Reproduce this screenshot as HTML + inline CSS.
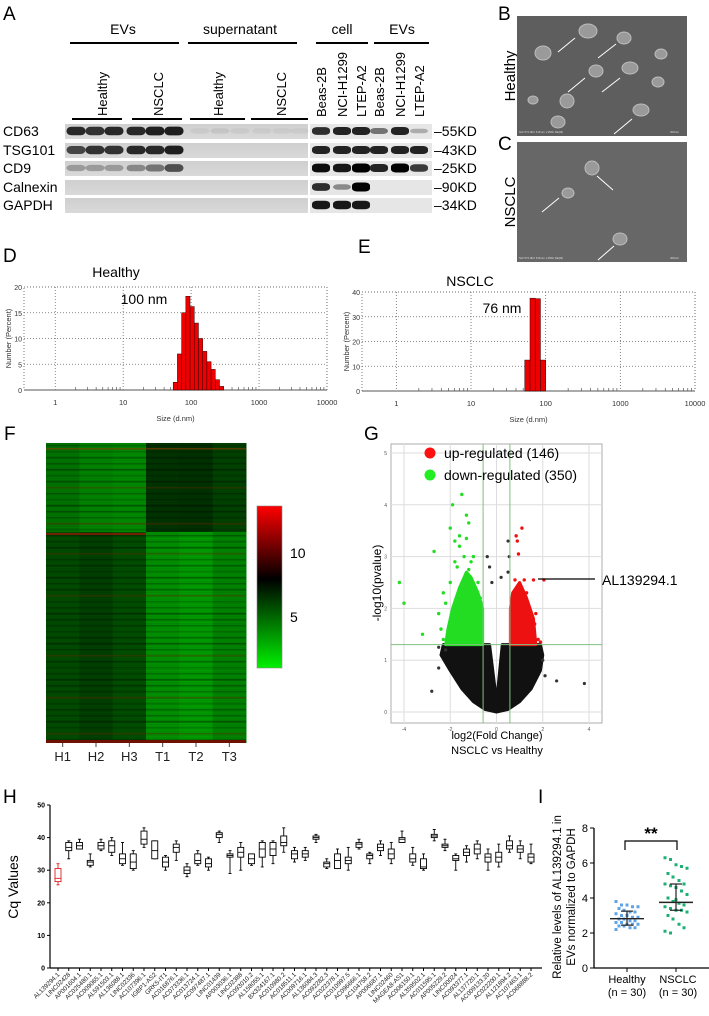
<!DOCTYPE html>
<html><head><meta charset="utf-8">
<style>
html,body{margin:0;padding:0;background:#fff;}
svg{display:block;font-family:"Liberation Sans",Arial,sans-serif;}
</style></head>
<body>
<svg id="fig" width="709" height="1016" viewBox="0 0 709 1016" xmlns="http://www.w3.org/2000/svg">
<defs>
<linearGradient id="gelL" x1="0" y1="0" x2="0" y2="1"><stop offset="0" stop-color="#cfcfcf"/><stop offset="1" stop-color="#d9d9d9"/></linearGradient>
</defs>
<g font-size="19" fill="#000">
<text x="3" y="20">A</text><text x="498" y="20">B</text><text x="498" y="150">C</text>
<text x="3" y="262">D</text><text x="358" y="253">E</text><text x="4" y="440">F</text><text x="364" y="440">G</text>
<text x="3" y="803">H</text><text x="538" y="803">I</text>
</g>

<g font-size="14" text-anchor="middle">
<text x="123" y="34">EVs</text><line x1="70" y1="43" x2="179" y2="43" stroke="#000" stroke-width="2"/>
<text x="240" y="34">supernatant</text><line x1="188" y1="43" x2="297" y2="43" stroke="#000" stroke-width="2"/>
<text x="342" y="34">cell</text><line x1="316" y1="43" x2="368" y2="43" stroke="#000" stroke-width="2"/>
<text x="402" y="34">EVs</text><line x1="374" y1="43" x2="429" y2="43" stroke="#000" stroke-width="2"/>
<line x1="72" y1="119" x2="122" y2="119" stroke="#000" stroke-width="2"/>
<line x1="132" y1="119" x2="182" y2="119" stroke="#000" stroke-width="2"/>
<line x1="190" y1="119" x2="245" y2="119" stroke="#000" stroke-width="2"/>
<line x1="251" y1="119" x2="308" y2="119" stroke="#000" stroke-width="2"/>
</g>
<g id="lanelabels" font-size="13"></g>
<g id="blots"></g>

<g>
<text transform="translate(515,76) rotate(-90)" text-anchor="middle" font-size="15">Healthy</text>
<text transform="translate(515,202) rotate(-90)" text-anchor="middle" font-size="15">NSCLC</text>
<rect x="517" y="16" width="170" height="120" fill="#5e5e5e"/>
<rect x="517" y="142" width="170" height="120" fill="#676767"/>
<g fill="#9a9a9a" stroke="#bdbdbd" stroke-width="1">
<ellipse cx="588" cy="31" rx="9" ry="7"/><ellipse cx="624" cy="38" rx="7" ry="6"/><ellipse cx="543" cy="53" rx="8" ry="7"/>
<ellipse cx="596" cy="71" rx="7" ry="6"/><ellipse cx="630" cy="68" rx="8" ry="6"/><ellipse cx="661" cy="54" rx="6" ry="5"/>
<ellipse cx="658" cy="82" rx="6" ry="5"/><ellipse cx="567" cy="101" rx="7" ry="7"/><ellipse cx="641" cy="110" rx="8" ry="6"/>
<ellipse cx="558" cy="122" rx="7" ry="6"/><ellipse cx="533" cy="100" rx="5" ry="4"/>
<ellipse cx="592" cy="168" rx="7" ry="7"/><ellipse cx="568" cy="193" rx="6" ry="5"/><ellipse cx="620" cy="239" rx="7" ry="6"/>
</g>
<g stroke="#fff" stroke-width="1" fill="none">
<line x1="558" y1="52" x2="575" y2="38"/><line x1="598" y1="58" x2="616" y2="44"/><line x1="568" y1="92" x2="585" y2="78"/>
<line x1="602" y1="92" x2="620" y2="78"/><line x1="614" y1="134" x2="632" y2="119"/>
<line x1="613" y1="190" x2="597" y2="176"/><line x1="542" y1="212" x2="559" y2="198"/><line x1="598" y1="260" x2="614" y2="246"/>
</g>
<g font-size="3" fill="#ddd"><text x="519" y="133">SU70 5.0kV 6.8mm x150k SE(M)</text><text x="670" y="133">300nm</text>
<text x="519" y="259">SU70 5.0kV 6.8mm x150k SE(M)</text><text x="670" y="259">300nm</text></g>
</g>

<g id="dls"></g>
<g id="heat"></g>
<g id="volcano"></g>
<g id="boxes"></g>
<g id="dots"></g>
</svg>

<script>
const blotRows = ["CD63","TSG101","CD9","Calnexin","GAPDH"];
const blotMW = ["55KD","43KD","25KD","90KD","34KD"];
const leftIntensity = [
 [0.9,0.85,0.9,0.9,0.95,0.95,0.05,0.08,0.05,0.05,0.05,0.05],
 [0.75,0.85,0.85,0.9,0.9,0.95,0,0,0,0,0,0],
 [0.3,0.3,0.3,0.4,0.5,0.7,0,0,0,0,0,0],
 [0,0,0,0,0,0,0,0,0,0,0,0],
 [0,0,0,0,0,0,0,0,0,0,0,0]];
const rightIntensity = [
 [0.8,0.85,0.85,0.5,0.85,0.25],
 [0.85,0.85,0.85,0.85,0.85,0.85],
 [0.95,0.9,1,0.85,1,0.75],
 [0.8,0.4,1,0,0,0],
 [0.9,0.9,0.9,0,0,0]];
const rightLanes = ["Beas-2B","NCI-H1299","LTEP-A2","Beas-2B","NCI-H1299","LTEP-A2"];

const dHealthy = [1.5,7,15,18.2,16.2,13,10,7.5,5.5,4,2,0.7];
const dNsclc = [12.5,37.5,37.3,12.5];
const sizeTicks = ["1","10","100","1000","10000"];

const heatCols = ["H1","H2","H3","T1","T2","T3"];
const heatTop = [4.2,3.6,3.4,6.4,6.5,5.9];
const heatBottom = [5.6,6.0,5.5,3.2,2.8,3.6];
const heatStripes = [2,1,3,2,4,1,3,5,2,1,4,3,2,6,1,3,2,4,5,2,3,1,4,2,3,5,1,2,4,3,2,1,3,4,2,5,3,1,2,4,3,2,6,1,3,2,4,1,5,2];

const greenPts = [[-4.2,2.5],[-4,2.1],[-3.2,1.5],[-2.7,3.1],[-1.9,4.0],[-1.5,4.2],[-2,3.55],[-1.3,3.8],[-1.2,3.65],[-1.6,3.4],[-1.8,3.3],[-1.3,3.35],[-1.6,3.2],[-2.3,2.3],[-2.2,2.1],[-2.5,1.9],[-2.4,1.6],[-2.0,2.5],[-1.7,2.8],[-1.4,3.0],[-1.1,2.9],[-1.0,3.0],[-0.8,2.5],[-2.3,1.4],[-1.8,2.9],[-1.2,2.75],[-0.7,2.2]];
const redPts = [[1.1,3.55],[0.85,3.4],[0.9,3.3],[0.95,3.05],[0.8,2.55],[1.2,2.55],[1.6,2.55],[2.05,2.55],[1.7,1.9],[1.8,1.4],[1.5,1.5],[1.65,1.7],[1.9,1.35],[1.3,2.3],[1.1,2.1]];
const blackPts = [[0.5,3.3],[0.55,3.0],[-0.4,3.0],[-0.3,2.8],[-0.2,2.5],[0.2,2.6],[0.5,2.7],[2.1,0.7],[2.6,0.6],[3.8,0.55],[-2.8,0.4],[-2.5,0.85],[-2.2,1.2],[-2.5,1.25],[2.0,1.0]];
const greenCloud = [[-0.6,1.3],[-2.2,1.3],[-2.1,1.6],[-1.9,2.0],[-1.6,2.4],[-1.3,2.7],[-1.1,2.6],[-0.8,2.3],[-0.6,2.0]];
const redCloud = [[0.6,1.3],[1.7,1.3],[1.6,1.8],[1.3,2.2],[1.0,2.5],[0.7,2.3],[0.6,2.0]];
const blackCloud = [[-2.3,1.3],[-2.4,1.1],[-2.0,0.8],[-1.5,0.45],[-1.0,0.2],[-0.5,0.05],[0,0],[0.5,0.05],[1.0,0.2],[1.5,0.45],[1.9,0.8],[2.0,1.1],[1.9,1.3],[0.25,1.3],[0.05,0.4],[-0.05,0.4],[-0.3,1.3]];

const genes = ["AL139294.1","LINC02428","AP001604.1","AC025480.1","AC009065.1","AL591503.1","AL136088.1","LINC02336","AC107396.1","IGBP1-AS2","GRK5-IT1","AC016876.1","AC073336.1","AC013724.1","AC097487.1","LINC01439","AP003036.1","LINC02388","AC093010.2","AL158055.1","BX324167.1","AC010980.2","AC018511.1","AC009716.1","AL136084.3","AC092282.3","AC022378.1","AC010997.5","AC096666.1","AC104758.2","AP006687.1","LINC02460","MAGEA8-AS1","AC006150.1","AL359502.1","AC011595.1","AP005229.2","LINC00024","AC093377.1","AL137720.1","AC009133.20","AC022200.1","AL121894.2","AC107463.1","AC068888.2"];
const cqMed = [27.5,37,37.5,32.5,37.5,37.5,33.5,32.5,39.5,36,32.5,37,30,33,32,41,34.5,35.5,33.5,36.5,36.5,38.5,35,35,40,32,33,33,38,34.5,37,35,39.5,33.5,31,40.5,37.5,33.5,35.5,36.5,34,34,37.5,36.5,34];
const cqQ1 = [26.5,36,36.5,31.5,36.5,35.5,32,30.5,38,33.5,31,35.5,29,32,31,40,34,34,32,34,34.5,37.5,33.5,34,39.5,31,30.5,32,37,33.5,36,33.5,38.5,32.5,30.5,40,37,33,34.5,35,32.5,32.5,36.5,35.5,32.5];
const cqQ3 = [30.5,38.5,38.5,33,38.5,39,35,35,42,39,34,38,31,35,33.5,41.5,35,37,35,38.5,38.5,40.5,36,36,40.5,32.5,35,34,38.5,35,38,36.5,40,35,33.5,41,38,34.5,36.5,38,35,35.5,39,37.5,35];
const cqMin = [25.5,33.5,36.5,31,36,34.5,31.5,30,37,33.5,30,33,28,31.5,30,38.5,29,30,31.5,31,32,35.5,32.5,33,38.5,30.5,30.5,30,36.5,32,34.5,32,38.5,31.5,30,39,36,30,32.5,33.5,30,31,35.5,33.5,32];
const cqMax = [32,39,39.5,35,39.5,40,38.5,36,43,39,34.5,39,32,36,34,42,36,38.5,35,39,39,43,37,37,41,33.5,36.5,37,39.5,35.5,39,38.5,42,37,35,42.5,39.5,35,37.5,39,36.5,38,40.5,39,38];
const cqTicks = [0,10,20,30,40,50];

const healthyVals = [3.8,3.6,3.6,3.5,3.5,3.4,3.3,3.2,3.2,3.1,3.0,3.0,2.9,2.9,2.8,2.8,2.7,2.7,2.6,2.6,2.5,2.5,2.5,2.4,2.4,2.3,2.3,2.2,2.6,3.0];
const nsclcVals = [6.3,6.2,5.9,5.8,5.7,5.4,5.2,5.0,4.8,4.8,4.7,4.6,4.4,4.2,4.0,3.8,3.7,3.6,3.5,3.4,3.3,3.3,3.2,3.0,2.8,2.5,2.3,2.1,2.0,3.9];
const groupCenter = [2.82,3.75];
const groupErrLo = [2.45,3.3];
const groupErrHi = [3.25,4.8];
const iTicks = [0,2,4,6,8];

const NS="http://www.w3.org/2000/svg";
function mk(tag, parent, attrs, text){
  const e=document.createElementNS(NS,tag);
  for(const k in attrs) e.setAttribute(k,attrs[k]);
  if(text!==undefined) e.textContent=text;
  parent.appendChild(e); return e;
}

(function(){
  const g=document.getElementById('blots');
  const ll=document.getElementById('lanelabels');
  const rowY=[131,150,168,187,205];
  const leftX=[76,95,114,136,155,174,200,220,240,262,282,300];
  const rightX=[321,342,361,379,400,419];
  [["Healthy",102],["NSCLC",158],["Healthy",218],["NSCLC",281]].forEach(function(p){
    const t=mk('text',ll,{transform:'translate('+(p[1]+5)+',116) rotate(-90)'},p[0]);
    
    
  });
  rightLanes.forEach(function(n,i){
    const t=mk('text',ll,{transform:'translate('+(rightX[i]+5)+',117) rotate(-90)'},n);
    
    
  });
  blotRows.forEach(function(r,ri){
    const y=rowY[ri];
    const lab=mk('text',g,{x:3,y:y+5,'font-size':14},r);
    
    
    mk('rect',g,{x:65,y:y-7,width:243,height:15,fill:'url(#gelL)'});
    mk('rect',g,{x:310,y:y-7,width:122,height:15,fill:'#e6e6e6'});
    leftIntensity[ri].forEach(function(v,i){
      if(v<=0) return;
      const b=mk('rect',g,{x:leftX[i]-9.5,y:y-(2.5+2*v),width:19,height:5+4*v,rx:5,ry:4,fill:'#000','fill-opacity':v*0.9});
      
      
    });
    rightIntensity[ri].forEach(function(v,i){
      if(v<=0) return;
      const b=mk('rect',g,{x:rightX[i]-9,y:y-(1.5+3*v),width:18,height:3+6*v,rx:5,ry:3,fill:'#000','fill-opacity':v});
      
      
    });
    const m=mk('text',g,{x:434,y:y+5,'font-size':14},'\u2013'+blotMW[ri]);
    
    
  });
})();

(function(){
  const g=document.getElementById('dls');
  function panel(opt, vals){
    const X=function(l){return opt.x1+(l-(-0.46))/(4+0.46)*(opt.x2-opt.x1);};
    const Y=function(v){return opt.y0-v/opt.ymax*(opt.y0-opt.ytop);};
    mk('rect',g,{x:opt.x1,y:opt.ytop,width:opt.x2-opt.x1,height:opt.y0-opt.ytop,fill:'none',stroke:'#555','stroke-dasharray':'1,2','stroke-width':0.8});
    for(let d=0;d<=4;d++){ mk('line',g,{x1:X(d),x2:X(d),y1:opt.ytop,y2:opt.y0,stroke:'#666','stroke-dasharray':'1,2','stroke-width':0.8});}
    for(let k=1;k<=4;k++){ const v=opt.ymax*k/4; mk('line',g,{x1:opt.x1,x2:opt.x2,y1:Y(v),y2:Y(v),stroke:'#666','stroke-dasharray':'1,2','stroke-width':0.8});
      mk('text',g,{x:opt.x1-2,y:Y(v)+3,'font-size':7,'text-anchor':'end',fill:'#333'},String(v));}
    mk('text',g,{x:opt.x1-2,y:opt.y0+3,'font-size':7,'text-anchor':'end',fill:'#333'},'0');
    mk('line',g,{x1:opt.x1,x2:opt.x2,y1:opt.y0,y2:opt.y0,stroke:'#777','stroke-width':1.2});
    for(let d=0;d<4;d++) for(let m=2;m<=9;m++){ const xx=X(d+Math.log10(m)); mk('line',g,{x1:xx,x2:xx,y1:opt.y0-3,y2:opt.y0,stroke:'#555','stroke-width':0.7});}
    sizeTicks.forEach(function(t,i){ mk('text',g,{x:X(i),y:opt.y0+15,'font-size':7.5,'text-anchor':'middle',fill:'#333'},t);});
    vals.forEach(function(v,i){
      const l0=opt.start+i*opt.bw;
      const r=mk('rect',g,{x:X(l0),y:Y(v),width:X(l0+opt.bw)-X(l0),height:opt.y0-Y(v),fill:'#ee0000',stroke:'#300','stroke-width':0.5});
      
      
    });
    mk('text',g,{transform:'translate('+(opt.x1-13)+','+((opt.y0+opt.ytop)/2)+') rotate(-90)','font-size':7.5,'text-anchor':'middle',fill:'#333'},'Number (Percent)');
    mk('text',g,{x:(opt.x1+opt.x2)/2,y:opt.y0+31,'font-size':7.5,'text-anchor':'middle',fill:'#333'},'Size (d.nm)');
    mk('text',g,{x:opt.tx,y:opt.ty,'font-size':14,'text-anchor':'middle'},opt.title);
    mk('text',g,{x:opt.px,y:opt.py,'font-size':14,'text-anchor':'middle'},opt.peak);
  }
  panel({x1:24,x2:327,ytop:287,y0:390,ymax:20,start:1.736,bw:0.062,title:'Healthy',tx:116,ty:277,peak:'100 nm',px:144,py:304},dHealthy);
  panel({x1:362,x2:695,ytop:292,y0:391,ymax:40,start:1.72,bw:0.07,title:'NSCLC',tx:470,ty:286,peak:'76 nm',px:502,py:313},dNsclc);
})();

(function(){
  const g=document.getElementById('heat');
  const x0=46,x1=246,y0=443,yb=532,y1=743,cw=(x1-x0)/6;
  function col(v){
    if(v<=7){const t=v/7; return 'rgb(0,'+Math.round(235-200*t)+',0)';}
    const t=Math.min(1,(v-7)/5); return 'rgb('+Math.round(255*t)+',0,0)';
  }
  heatCols.forEach(function(c,i){
    const a=mk('rect',g,{x:x0+i*cw,y:y0,width:cw+0.5,height:yb-y0,fill:col(heatTop[i])});
    
    
    const b=mk('rect',g,{x:x0+i*cw,y:yb,width:cw+0.5,height:y1-yb,fill:col(heatBottom[i])});
    
    
    mk('line',g,{x1:x0+(i+0.5)*cw,x2:x0+(i+0.5)*cw,y1:y1,y2:y1+4,stroke:'#444'});
    mk('text',g,{x:x0+(i+0.5)*cw,y:y1+18,'font-size':13,'text-anchor':'middle',fill:'#222'},c);
  });
  const sh=(y1-y0)/heatStripes.length;
  heatStripes.forEach(function(s,k){
    const y=y0+k*sh;
    const dark = s>=5;
    const st=mk('rect',g,{x:x0,y:y+sh*0.3,width:x1-x0,height:Math.max(0.8,sh*0.3),fill:dark?'#5a2a00':'#000','fill-opacity':0.1+0.06*s});
    
    
  });
  for(let yy=y0;yy<y1;yy+=2.2){ mk('line',g,{x1:x0,x2:x1,y1:yy,y2:yy,stroke:'#000','stroke-opacity':0.08,'stroke-width':0.6}); }
  mk('rect',g,{x:x0,y:448,width:x1-x0,height:1.5,fill:'#8a3a00','fill-opacity':0.6});
  mk('rect',g,{x:x0,y:533,width:100,height:2,fill:'#8a1a00','fill-opacity':0.8});
  mk('rect',g,{x:x0,y:740,width:x1-x0,height:3,fill:'#701000'});
  const defs=mk('defs',g,{});
  const lg=mk('linearGradient',defs,{id:'cb',x1:0,y1:1,x2:0,y2:0});
  mk('stop',lg,{offset:'0','stop-color':'#00f000'});
  mk('stop',lg,{offset:'0.55','stop-color':'#000'});
  mk('stop',lg,{offset:'1','stop-color':'#ff0000'});
  const cb=mk('rect',g,{x:257,y:506,width:25,height:162,fill:'url(#cb)',stroke:'#888','stroke-width':0.6});
  
  
  mk('text',g,{x:290,y:558,'font-size':14},'10');
  mk('text',g,{x:290,y:622,'font-size':14},'5');
})();

(function(){
  const g=document.getElementById('volcano');
  const X=function(v){return 404+(v+4)*(589-404)/8;};
  const Y=function(v){return 712-v*(712-453)/5;};
  mk('rect',g,{x:391,y:444,width:211,height:279,fill:'#fff',stroke:'#999','stroke-width':0.8});
  for(let v=-4;v<=4;v+=2){ mk('line',g,{x1:X(v),x2:X(v),y1:444,y2:723,stroke:'#ddd'}); mk('text',g,{x:X(v),y:731,'font-size':5,'text-anchor':'middle',fill:'#555'},String(v));}
  for(let v=0;v<=5;v++){ mk('line',g,{x1:391,x2:602,y1:Y(v),y2:Y(v),stroke:'#ddd'}); mk('text',g,{x:387,y:Y(v)+2,'font-size':5,'text-anchor':'end',fill:'#555'},String(v));}
  function poly(pts,fill){ return mk('polygon',g,{points:pts.map(function(q){return X(q[0])+','+Y(q[1]);}).join(' '),fill:fill,stroke:fill,'stroke-width':3,'stroke-linejoin':'round'});}
  const bc=poly(blackCloud,'#111');  
  const gc=poly(greenCloud,'#22dd22');  
  const rc=poly(redCloud,'#ee1111');  
  blackPts.forEach(function(p){ const c=mk('circle',g,{cx:X(p[0]),cy:Y(p[1]),r:1.6,fill:'#333'});  });
  greenPts.forEach(function(p){ const c=mk('circle',g,{cx:X(p[0]),cy:Y(p[1]),r:1.7,fill:'#22dd22'});  });
  redPts.forEach(function(p){ const c=mk('circle',g,{cx:X(p[0]),cy:Y(p[1]),r:1.7,fill:'#ee1111'});  });
  [-0.58,0.58].forEach(function(v){ mk('line',g,{x1:X(v),x2:X(v),y1:444,y2:723,stroke:'#7fc07f'});});
  mk('line',g,{x1:391,x2:602,y1:Y(1.3),y2:Y(1.3),stroke:'#7fc07f'});
  mk('circle',g,{cx:430,cy:453,r:5.5,fill:'#ff1010'});
  mk('text',g,{x:444,y:458,'font-size':14},'up-regulated (146)');
  mk('circle',g,{cx:430,cy:475,r:5.5,fill:'#22ee22'});
  mk('text',g,{x:444,y:480,'font-size':14},'down-regulated (350)');
  mk('line',g,{x1:538,x2:595,y1:579,y2:579,stroke:'#000','stroke-width':1.3});
  const lab=mk('text',g,{x:602,y:585,'font-size':14},'AL139294.1');
   
  mk('text',g,{transform:'translate(381,583) rotate(-90)','font-size':12,'text-anchor':'middle'},'-log10(pvalue)');
  mk('text',g,{x:497,y:739,'font-size':11,'text-anchor':'middle'},'log2(Fold Change)');
  mk('text',g,{x:497,y:754,'font-size':11,'text-anchor':'middle'},'NSCLC vs Healthy');
})();

(function(){
  const g=document.getElementById('boxes');
  const Y=function(v){return 968-v*(968-805)/50;};
  const X=function(i){return 58+i*10.75;};
  mk('line',g,{x1:50,x2:542,y1:968,y2:968,stroke:'#000','stroke-width':1.2});
  mk('line',g,{x1:50,x2:50,y1:805,y2:968,stroke:'#000','stroke-width':1.2});
  cqTicks.forEach(function(t){ mk('line',g,{x1:47,x2:50,y1:Y(t),y2:Y(t),stroke:'#000'}); mk('text',g,{x:45,y:Y(t)+2.5,'font-size':7,'font-weight':'bold','text-anchor':'end'},String(t));});
  mk('text',g,{transform:'translate(18,887) rotate(-90)','font-size':14,'text-anchor':'middle'},'Cq Values');
  genes.forEach(function(n,i){
    const cx=X(i), col=i===0?'#e02020':'#000';
    mk('line',g,{x1:cx,x2:cx,y1:968,y2:971,stroke:'#000'});
    const bw=mk('line',g,{x1:cx,x2:cx,y1:Y(cqMax[i]),y2:Y(cqMin[i]),stroke:col,'stroke-width':0.9});
     
    mk('line',g,{x1:cx-1.5,x2:cx+1.5,y1:Y(cqMax[i]),y2:Y(cqMax[i]),stroke:col,'stroke-width':0.9});
    mk('line',g,{x1:cx-1.5,x2:cx+1.5,y1:Y(cqMin[i]),y2:Y(cqMin[i]),stroke:col,'stroke-width':0.9});
    const b=mk('rect',g,{x:cx-3,y:Y(cqQ3[i]),width:6,height:Math.max(1,Y(cqQ1[i])-Y(cqQ3[i])),fill:'#fff',stroke:col,'stroke-width':0.9});
     
    mk('line',g,{x1:cx-3,x2:cx+3,y1:Y(cqMed[i]),y2:Y(cqMed[i]),stroke:col,'stroke-width':0.9});
    const t=mk('text',g,{transform:'translate('+(cx+2)+',975) rotate(-45)','font-size':6.3,'text-anchor':'end',fill:'#222'},n);
     
  });
})();

(function(){
  const g=document.getElementById('dots');
  const Y=function(v){return 968-v*17.5;};
  const cx=[627,676];
  mk('line',g,{x1:594,x2:709,y1:968,y2:968,stroke:'#000','stroke-width':1.3});
  mk('line',g,{x1:594,x2:594,y1:828,y2:968,stroke:'#000','stroke-width':1.3});
  iTicks.forEach(function(t){ mk('line',g,{x1:590,x2:594,y1:Y(t),y2:Y(t),stroke:'#000'}); mk('text',g,{x:588,y:Y(t)+4,'font-size':11,'text-anchor':'end'},String(t));});
  mk('text',g,{transform:'translate(561,897) rotate(-90)','font-size':11.5,'text-anchor':'middle'},'Relative levels of AL139294.1 in');
  mk('text',g,{transform:'translate(575,897) rotate(-90)','font-size':11.5,'text-anchor':'middle'},'EVs normalized to GAPDH');
  cx.forEach(function(c){ mk('line',g,{x1:c,x2:c,y1:968,y2:972,stroke:'#000'});});
  const offs=[-11,-5.5,0,5.5,11,-8,-3,3,8];
  [healthyVals,nsclcVals].forEach(function(arr,gi){
    const col=gi===0?'#5fa3e6':'#1bb074';
    arr.forEach(function(v,k){
      const r=mk('rect',g,{x:cx[gi]+offs[k%offs.length]-1.5,y:Y(v)-1.5,width:3,height:3,fill:col});
       
    });
    mk('line',g,{x1:cx[gi]-17,x2:cx[gi]+17,y1:Y(groupCenter[gi]),y2:Y(groupCenter[gi]),stroke:'#222','stroke-width':1.4});
    mk('line',g,{x1:cx[gi],x2:cx[gi],y1:Y(groupErrLo[gi]),y2:Y(groupErrHi[gi]),stroke:'#222','stroke-width':1.2});
    mk('line',g,{x1:cx[gi]-6,x2:cx[gi]+6,y1:Y(groupErrLo[gi]),y2:Y(groupErrLo[gi]),stroke:'#222','stroke-width':1.2});
    mk('line',g,{x1:cx[gi]-6,x2:cx[gi]+6,y1:Y(groupErrHi[gi]),y2:Y(groupErrHi[gi]),stroke:'#222','stroke-width':1.2});
  });
  mk('polyline',g,{points:'625,850 625,841 677,841 677,850',fill:'none',stroke:'#000','stroke-width':1.2});
  mk('text',g,{x:651,y:839,'font-size':17,'font-weight':'bold','text-anchor':'middle'},'**');
  mk('text',g,{x:627,y:983,'font-size':11,'text-anchor':'middle'},'Healthy');
  mk('text',g,{x:627,y:996,'font-size':11,'text-anchor':'middle'},'(n = 30)');
  mk('text',g,{x:678,y:983,'font-size':11,'text-anchor':'middle'},'NSCLC');
  mk('text',g,{x:678,y:996,'font-size':11,'text-anchor':'middle'},'(n = 30)');
})();
</script>
</body></html>
